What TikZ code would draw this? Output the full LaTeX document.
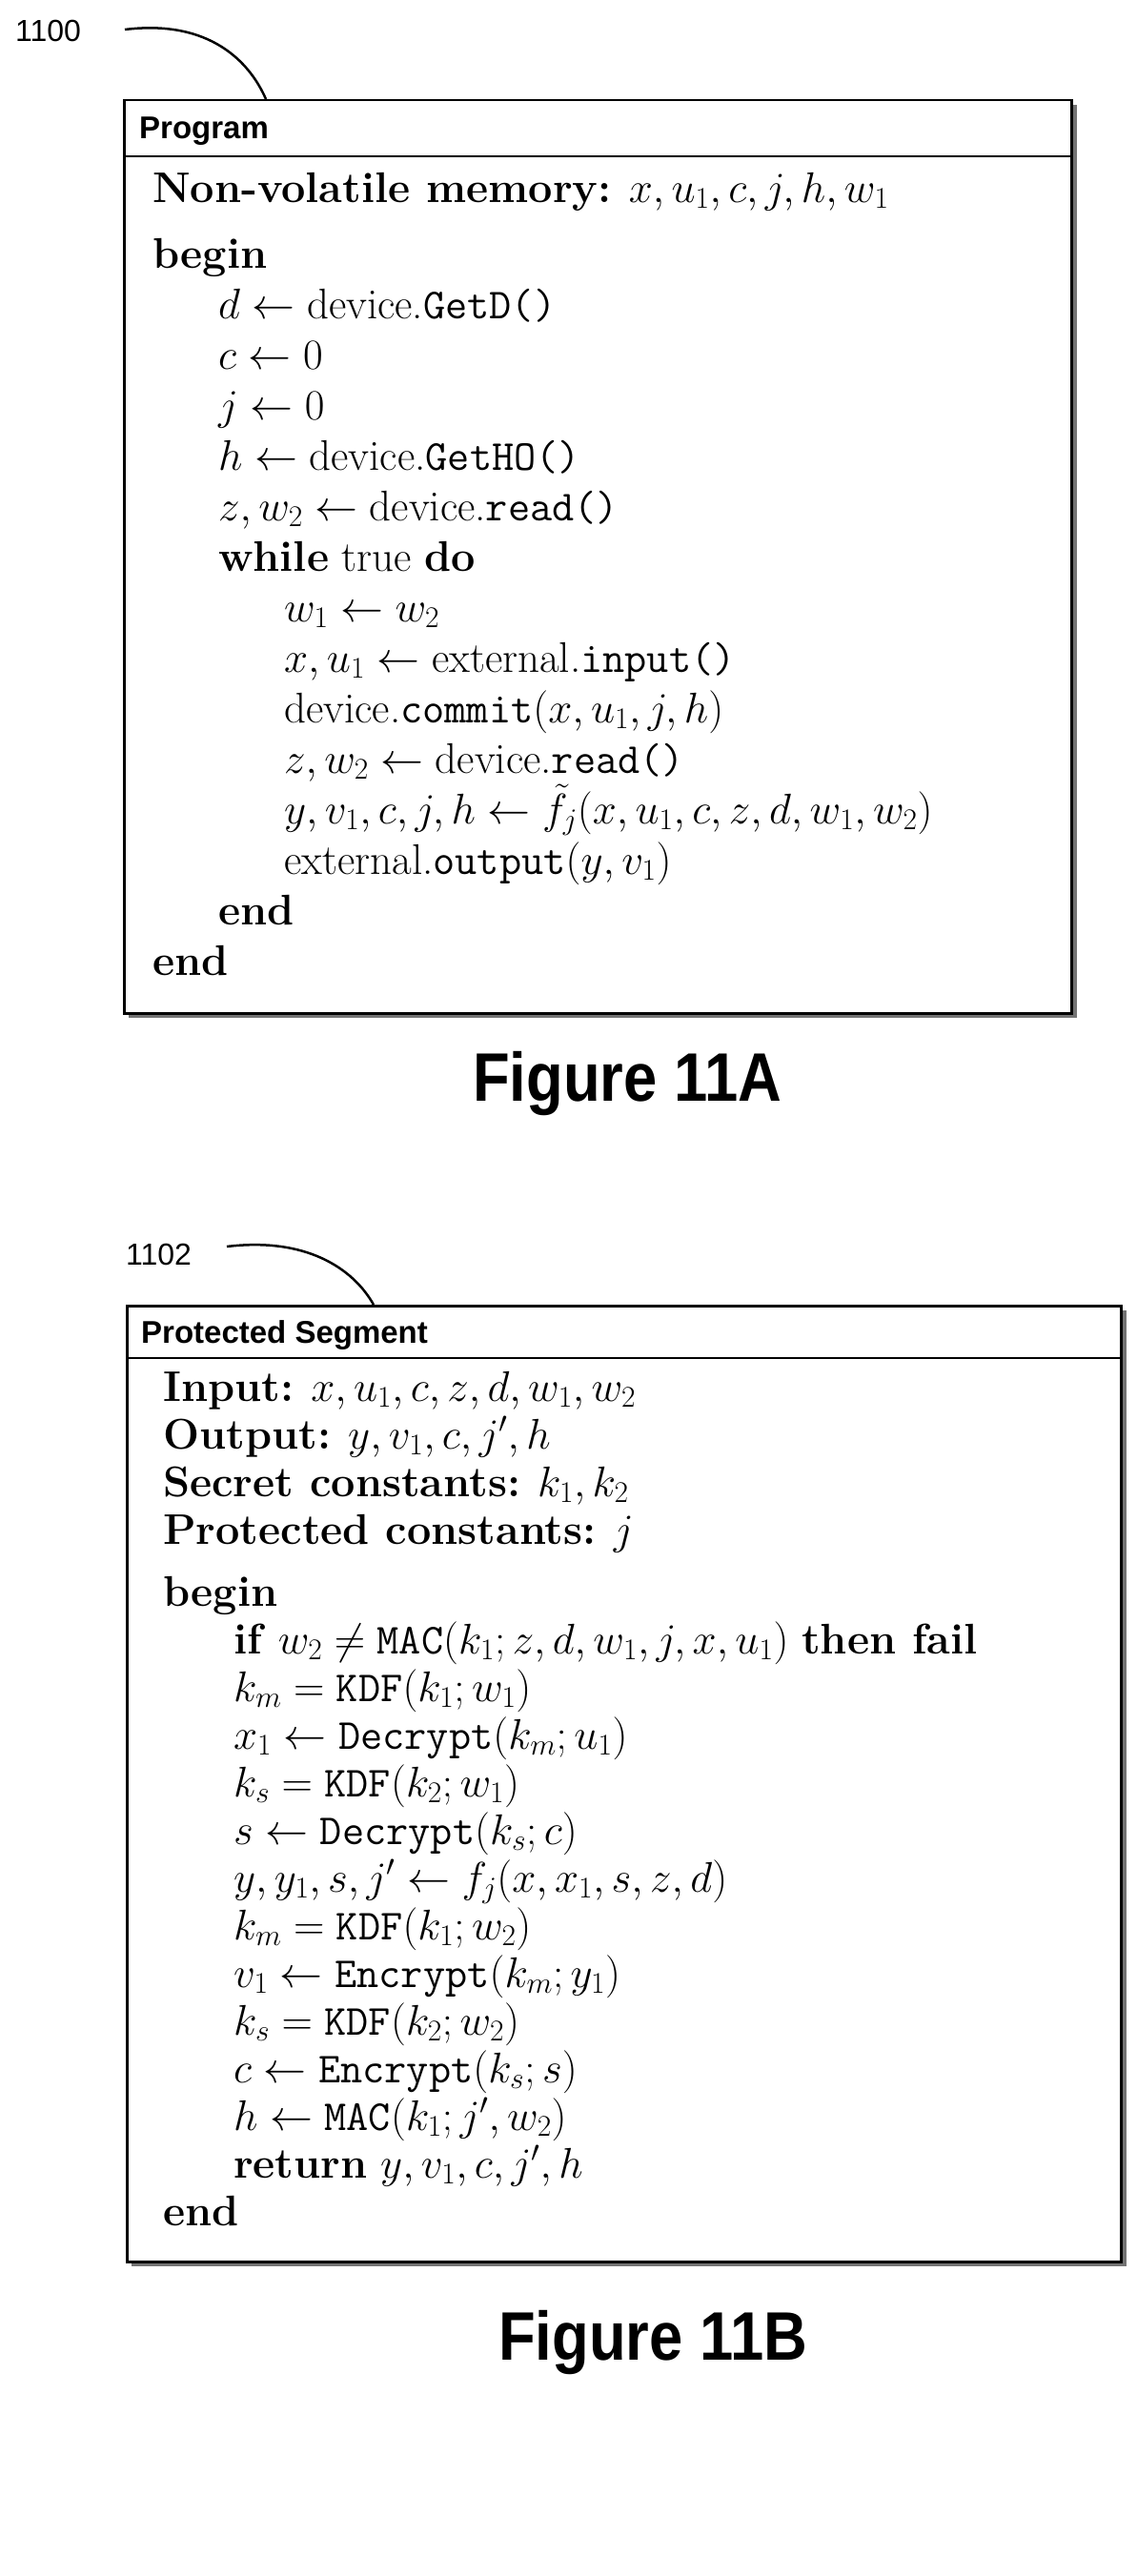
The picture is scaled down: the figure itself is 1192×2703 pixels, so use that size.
\RequirePackage{fix-cm}
\documentclass[tikz,border=0pt]{standalone}
\usepackage{amsmath,amssymb}
\usepackage{fontspec}
\newfontfamily\hdr{Liberation Sans}
\begin{document}
\begin{tikzpicture}[x=1pt,y=-1pt,
  alg/.style={anchor=base west,inner sep=0pt,font=\fontsize{45}{50}\selectfont},
  hd/.style={anchor=base west,inner sep=0pt,font=\hdr\bfseries\fontsize{33}{36}\selectfont},
  fig/.style={anchor=base,inner sep=0pt,xscale=0.88,font=\hdr\bfseries\fontsize{72}{80}\selectfont},
  ref/.style={anchor=base west,inner sep=0pt,font=\hdr\fontsize{32}{36}\selectfont},
  box/.style={draw,line width=2.5pt,fill=white},
  shadow/.style={fill=black!55}]
\useasboundingbox (0,0) rectangle (1192,2703);
% Figure 11A
\node[ref] (r1) at (16,44) {1100};
\coordinate (c1) at (131,31);
\coordinate (c2) at (279,104);
\draw[line width=2.5pt] (c1) .. controls (220,20) and (262,65) .. (c2);
\fill[shadow] (135,110) rectangle (1130,1068);
\node[box,minimum width=994pt,minimum height=958pt,anchor=north west] (boxA) at (129,104) {};
\draw[line width=2.5pt] (129,164) -- (1123,164);
\node[hd] (ha) at (146,146) {Program};
\newcommand\tti[1]{\texttt{#1}}
\node[alg] at (160,212) {\textbf{Non-volatile memory:} $x,u_1,c,j,h,w_1$};
\node[alg] at (160,281) {\textbf{begin}};
\node[alg] at (229,334) {$d\leftarrow{}$device.\tti{GetD()}};
\node[alg] at (229,387) {$c\leftarrow 0$};
\node[alg] at (229,440) {$j\leftarrow 0$};
\node[alg] at (229,493) {$h\leftarrow{}$device.\tti{GetHO()}};
\node[alg] at (229,546) {$z,w_2\leftarrow{}$device.\tti{read()}};
\node[alg] at (229,599) {\textbf{while} true \textbf{do}};
\node[alg] at (298,652) {$w_1\leftarrow w_2$};
\node[alg] at (298,705) {$x,u_1\leftarrow{}$external.\tti{input()}};
\node[alg] at (298,758) {device.\tti{commit}$(x,u_1,j,h)$};
\node[alg] at (298,811) {$z,w_2\leftarrow{}$device.\tti{read()}};
\node[alg] at (298,864) {$y,v_1,c,j,h\leftarrow\tilde f_j(x,u_1,c,z,d,w_1,w_2)$};
\node[alg] at (298,917) {external.\tti{output}$(y,v_1)$};
\node[alg] at (229,970) {\textbf{end}};
\node[alg] at (160,1023) {\textbf{end}};
\node[fig] (fa) at (658,1155) {Figure 11A};
% Figure 11B
\node[ref] (r2) at (132,1327) {1102};
\coordinate (d1) at (238,1308);
\coordinate (d2) at (392,1369);
\draw[line width=2.5pt] (d1) .. controls (320,1298) and (370,1330) .. (d2);
\fill[shadow] (138,1375) rectangle (1182,2378);
\node[box,minimum width=1043pt,minimum height=1003pt,anchor=north west] (boxB) at (132,1369) {};
\draw[line width=2.5pt] (132,1425) -- (1175,1425);
\node[hd] (hb) at (148,1409) {Protected Segment};
\node[alg] at (171,1470) {\textbf{Input:} $x,u_1,c,z,d,w_1,w_2$};
\node[alg] at (171,1520) {\textbf{Output:} $y,v_1,c,j',h$};
\node[alg] at (171,1570) {\textbf{Secret constants:} $k_1,k_2$};
\node[alg] at (171,1620) {\textbf{Protected constants:} $j$};
\node[alg] at (171,1685) {\textbf{begin}};
\node[alg] at (245,1735) {\textbf{if} $w_2\neq\mathtt{MAC}(k_1;z,d,w_1,j,x,u_1)$ \textbf{then fail}};
\node[alg] at (245,1785) {$k_m=\mathtt{KDF}(k_1;w_1)$};
\node[alg] at (245,1835) {$x_1\leftarrow\mathtt{Decrypt}(k_m;u_1)$};
\node[alg] at (245,1885) {$k_s=\mathtt{KDF}(k_2;w_1)$};
\node[alg] at (245,1935) {$s\leftarrow\mathtt{Decrypt}(k_s;c)$};
\node[alg] at (245,1985) {$y,y_1,s,j'\leftarrow f_j(x,x_1,s,z,d)$};
\node[alg] at (245,2035) {$k_m=\mathtt{KDF}(k_1;w_2)$};
\node[alg] at (245,2085) {$v_1\leftarrow\mathtt{Encrypt}(k_m;y_1)$};
\node[alg] at (245,2135) {$k_s=\mathtt{KDF}(k_2;w_2)$};
\node[alg] at (245,2185) {$c\leftarrow\mathtt{Encrypt}(k_s;s)$};
\node[alg] at (245,2235) {$h\leftarrow\mathtt{MAC}(k_1;j',w_2)$};
\node[alg] at (245,2285) {\textbf{return} $y,v_1,c,j',h$};
\node[alg] at (171,2335) {\textbf{end}};
\node[fig] (fb) at (685,2476) {Figure 11B};
\end{tikzpicture}
\end{document}
